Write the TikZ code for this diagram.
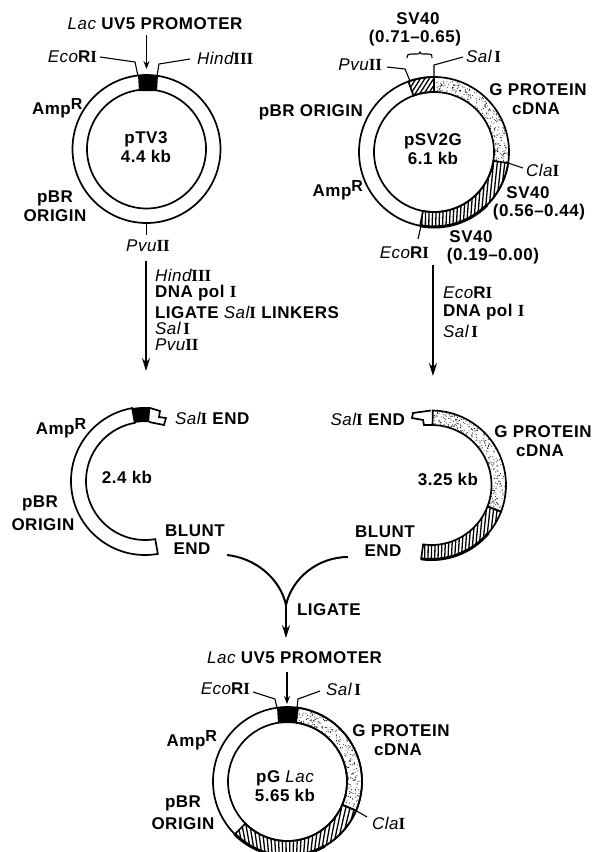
\documentclass[tikz,border=0pt]{standalone}
\usepackage{fontspec}
\setmainfont{Liberation Sans}[LetterSpace=3]
\newfontfamily\rnfont{Liberation Serif}
\usetikzlibrary{arrows.meta}
\newcommand{\rn}[1]{{\rnfont\bfseries #1}}
\newcommand{\itl}[1]{{\mdseries\itshape #1}}
\newcommand{\ampr}{Amp\raisebox{5pt}{\fontsize{16}{16}\selectfont R}}
\newcommand{\bandp}[6]{({#1+#3*cos(#5-90)},{#2+#3*sin(#5-90)}) arc[start angle={#5-90},end angle={#6-90},radius=#3] -- ({#1+#4*cos(#6-90)},{#2+#4*sin(#6-90)}) arc[start angle={#6-90},end angle={#5-90},radius=#4] -- cycle}
\newcommand{\oarc}[5]{\draw[thickarc] ({#1+#3*cos(#4-90)},{#2+#3*sin(#4-90)}) arc[start angle={#4-90},end angle={#5-90},radius=#3];}
% cx cy R r a1 a2 n
\newcommand{\stip}[7]{\foreach \k in {1,...,#7}{%
  \pgfmathsetmacro{\aa}{#5+rnd*(#6-#5)-90}\pgfmathsetmacro{\rr}{#4+1+rnd*(#3-#4-2)}%
  \fill ({#1+\rr*cos(\aa)},{#2+\rr*sin(\aa)}) circle[radius=0.5];}}
% cx cy R r a1 a2 | n x0 d0 y0 x1 d1 y1
\newcommand{\hatchb}[6]{\begin{scope}\clip \bandp{#1}{#2}{#3}{#4}{#5}{#6};\hatchlines}
\newcommand{\hatchlines}[7]{\foreach \s in {0,...,#1}{\draw[hl] ({#2+\s*#3},#4) -- ({#5+\s*#6},#7);}\end{scope}}
\tikzset{
  lab/.style={font=\fontsize{17}{18.5}\selectfont\bfseries,inner sep=0pt,outer sep=0pt,align=center},
  lft/.style={lab,anchor=west},
  ring/.style={line width=1.7pt},
  lead/.style={line width=1.1pt},
  hl/.style={line width=1.3pt},
  arr/.style={line width=1.6pt,-{Stealth[length=13pt,width=8pt]}},
  sarr/.style={line width=1.1pt,-{Stealth[length=8pt,width=6pt]}},
  thickarc/.style={line width=3pt}
}
\begin{document}
\begin{tikzpicture}[x=1pt,y=-1pt]
\useasboundingbox (0,0) rectangle (592,852);
\pgfmathsetseed{4242}
%% pTV3
\draw[ring] (146.5,149) circle[radius=74];
\draw[ring] (146.5,149) circle[radius=59.5];
\fill (138,75) -- (158,75) -- (157,91) -- (139,91) -- cycle;
\node[lab] (lac1) at (155,24) {\itl{Lac} UV5 PROMOTER};
\coordinate (lac1a) at (146.5,35); \coordinate (lac1b) at (146.5,69);
\draw[sarr] (lac1a) -- (lac1b);
\node[lab,anchor=east] (eco1) at (97,57) {\itl{Eco}R\rn{I}};
\coordinate (eco1a) at (100,57); \coordinate (eco1b) at (135,62); \coordinate (eco1c) at (138,76);
\draw[lead] (eco1a) -- (eco1b) -- (eco1c);
\node[lft] (hind1) at (197,58) {\itl{Hind}\rn{III}};
\coordinate (hind1a) at (190,59); \coordinate (hind1b) at (159,64); \coordinate (hind1c) at (157,76);
\draw[lead] (hind1a) -- (hind1b) -- (hind1c);
\node[lft] (amp1) at (32,108) {\ampr};
\node[lab] (ori1) at (55,206) {pBR\\ORIGIN};
\node[lab] (ptv) at (146,147) {pTV3\\4.4 kb};
\coordinate (pvu1a) at (146.5,223); \coordinate (pvu1b) at (146.5,235);
\draw[lead] (pvu1a) -- (pvu1b);
\node[lab] (pvu1) at (148,246) {\itl{Pvu}\rn{II}};
\coordinate (a1a) at (146,261); \coordinate (a1b) at (146,371);
\draw[arr] (a1a) -- (a1b);
\node[lft] (s1) at (155,275) {\itl{Hind}\rn{III}};
\node[lft] (s2) at (155,293) {DNA pol \rn{I}};
\node[lft] (s3) at (155,312) {LIGATE \itl{Sal}\rn{I} LINKERS};
\node[lft] (s4) at (155,328) {\itl{Sal}\,\rn{I}};
\node[lft] (s5) at (155,345) {\itl{Pvu}\rn{II}};
%% pSV2G
\stip{434}{152}{75}{60}{0}{98.5}{230}
\hatchb{434}{152}{75}{60}{-20}{0}{8}{398}{4.4}{100}{414}{4.4}{75}
\hatchb{434}{152}{75}{60}{98.5}{190.6}{27}{415}{3.4}{235}{415}{3.8}{150}
\draw[ring] (434,152) circle[radius=75];
\draw[ring] (434,152) circle[radius=60];
\draw[ring] \bandp{434}{152}{75}{60}{-20}{0};
\draw[ring] \bandp{434}{152}{75}{60}{98.5}{190.6};
\oarc{434}{152}{75}{135}{190.6}
\node[lab] (sv1) at (418,19) {SV40};
\node[lab] (sv1b) at (415,38) {(0.71--0.65)};
\coordinate (br1) at (407,58); \coordinate (br2) at (432,58);
\draw[lead] (br1) .. controls (407,54) and (409,54) .. (412,54) -- (417,54) .. controls (419,54) .. (420,52) .. controls (421,54) .. (423,54) -- (428,54) .. controls (431,54) and (432,54) .. (br2);
\node[lab,anchor=east] (pvu2) at (382,65) {\itl{Pvu}\rn{II}};
\coordinate (pvu2a) at (387,67); \coordinate (pvu2b) at (405,69); \coordinate (pvu2c) at (410,81);
\draw[lead] (pvu2a) -- (pvu2b) -- (pvu2c);
\node[lft] (sal2) at (466,56) {\itl{Sal}\,\rn{I}};
\coordinate (sal2a) at (463,57); \coordinate (sal2b) at (434,65); \coordinate (sal2c) at (434,78);
\draw[lead] (sal2a) -- (sal2b) -- (sal2c);
\node[lab,anchor=east] (ori2) at (363,112) {pBR ORIGIN};
\node[lab] (gp2) at (538,90) {G PROTEIN};
\node[lab] (cd2) at (536,109) {cDNA};
\node[lab] (psv) at (433,149) {pSV2G\\6.1 kb};
\node[lft] (cla2) at (526,170) {\itl{Cla}\rn{I}};
\coordinate (cla2a) at (508,163); \coordinate (cla2b) at (523,168);
\draw[lead] (cla2a) -- (cla2b);
\node[lab] (sv2) at (528,193) {SV40};
\node[lab] (sv2b) at (539,212) {(0.56--0.44)};
\node[lab,anchor=east] (amp2) at (363,190) {\ampr};
\coordinate (eco2a) at (421,226); \coordinate (eco2b) at (418,239);
\draw[lead] (eco2a) -- (eco2b);
\node[lab,anchor=east] (eco2) at (429,253) {\itl{Eco}R\rn{I}};
\node[lab] (sv3) at (471,237) {SV40};
\node[lab] (sv3b) at (493,256) {(0.19--0.00)};
\coordinate (a2a) at (433,265); \coordinate (a2b) at (433,376);
\draw[arr] (a2a) -- (a2b);
\node[lft] (t1) at (443,293) {\itl{Eco}R\rn{I}};
\node[lft] (t2) at (443,312) {DNA pol \rn{I}};
\node[lft] (t3) at (443,331) {\itl{Sal}\,\rn{I}};
%% left linear
\draw[ring] \bandp{145}{481}{74}{59}{170}{350};
\fill \bandp{145}{481}{74}{59}{350}{364};
\draw[ring] (150,408) -- (160,411) -- (159,417) -- (166,418) -- (164,425) -- (149,422);
\node[lab] (amp3) at (61,428) {\ampr};
\node[lft] (sal3) at (175,418) {\itl{Sal}\rn{I} END};
\node[lab] (k3) at (127,477) {2.4 kb};
\node[lab] (ori3a) at (40,503) {pBR};
\node[lab] (ori3b) at (43,525) {ORIGIN};
\node[lab] (bl3a) at (195,531) {BLUNT};
\node[lab] (bl3b) at (192,549) {END};
%% right linear
\stip{431.5}{485}{74.5}{60}{1}{111}{250}
\hatchb{431.5}{485}{74.5}{60}{111}{188}{22}{418}{3.3}{565}{418}{3.7}{490}
\draw[ring] \bandp{431.5}{485}{74.5}{60}{1}{111};
\draw[ring] \bandp{431.5}{485}{74.5}{60}{111}{188};
\oarc{431.5}{485}{74.5}{130}{188}
\draw[ring] (431,410.5) -- (413,413) -- (412,418) -- (423,420) -- (424,425) -- (432,425);
\node[lab,anchor=east] (sal4) at (405,419) {\itl{Sal}\rn{I} END};
\node[lab] (gp4) at (543,432) {G PROTEIN};
\node[lab] (cd4) at (540,451) {cDNA};
\node[lab] (k4) at (448,479) {3.25 kb};
\node[lab] (bl4a) at (385,532) {BLUNT};
\node[lab] (bl4b) at (383,551) {END};
%% ligate
\coordinate (lg1) at (227,555); \coordinate (lg2) at (348,557); \coordinate (lgm) at (286,605); \coordinate (lge) at (286,638);
\draw[line width=2pt] (lg1) .. controls (255,558) and (280,578) .. (lgm);
\draw[line width=2pt] (lg2) .. controls (318,557) and (292,578) .. (lgm);
\draw[arr] (lgm) -- (lge);
\node[lft] (lg) at (297,610) {LIGATE};
%% pG Lac
\stip{287.5}{781.5}{74.5}{59.5}{8}{113}{220}
\hatchb{287.5}{781.5}{74.5}{59.5}{113}{225}{40}{225}{3.4}{860}{203}{4.59}{790}
\draw[ring] (287.5,781.5) circle[radius=74.5];
\draw[ring] (287.5,781.5) circle[radius=59.5];
\draw[ring] \bandp{287.5}{781.5}{74.5}{59.5}{113}{225};
\draw[ring] \bandp{287.5}{781.5}{74.5}{59.5}{8}{113};
\oarc{287.5}{781.5}{74.5}{150}{225}
\fill (277,707) -- (298,707) -- (297,723) -- (278,723) -- cycle;
\node[lab] (lac5) at (294.5,658) {\itl{Lac} UV5 PROMOTER};
\coordinate (lac5a) at (287,672); \coordinate (lac5b) at (287,704);
\draw[sarr] (lac5a) -- (lac5b);
\node[lab,anchor=east] (eco5) at (250,689) {\itl{Eco}R\rn{I}};
\coordinate (eco5a) at (253,692); \coordinate (eco5b) at (275,699); \coordinate (eco5c) at (277,708);
\draw[lead] (eco5a) -- (eco5b) -- (eco5c);
\node[lft] (sal5) at (326,689) {\itl{Sal}\,\rn{I}};
\coordinate (sal5a) at (320,691); \coordinate (sal5b) at (298,699); \coordinate (sal5c) at (297,708);
\draw[lead] (sal5a) -- (sal5b) -- (sal5c);
\node[lab] (gp5) at (401,731) {G PROTEIN};
\node[lab] (cd5) at (398,750) {cDNA};
\node[lab,anchor=east] (amp5) at (217,740) {\ampr};
\node[lab] (ori5a) at (183,803) {pBR};
\node[lab] (ori5b) at (183,824) {ORIGIN};
\node[lab] (pgl) at (285,786) {pG \itl{Lac}\\5.65 kb};
\node[lft] (cla5) at (372,823) {\itl{Cla}\rn{I}};
\coordinate (cla5a) at (355,810); \coordinate (cla5b) at (367,817);
\draw[lead] (cla5a) -- (cla5b);
\end{tikzpicture}
\end{document}
